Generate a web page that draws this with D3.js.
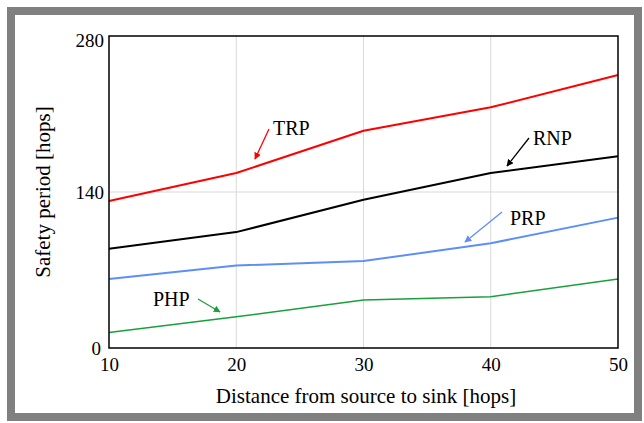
<!DOCTYPE html>
<html>
<head>
<meta charset="utf-8">
<script src="https://cdn.jsdelivr.net/npm/d3@7"></script>
<style>
  body { margin: 0; background: #fff; }
  svg { display: block; font-family: "Liberation Serif", "Times New Roman", serif; }
</style>
</head>
<body>
<svg id="chart"></svg>
<script>
// data
var distances = [10, 20, 30, 40, 50];
var trp = [132, 157, 195, 216, 245];
var rnp = [89, 104, 133, 157, 172];
var prp = [62, 74, 78, 94, 117];
var php = [14, 28, 43, 46, 62];
var yTicks = [0, 140, 280];

var series = [
  { name: "TRP", values: trp, color: "#ff0000", width: 2 },
  { name: "RNP", values: rnp, color: "#000000", width: 2 },
  { name: "PRP", values: prp, color: "#5c8ff7", width: 2 },
  { name: "PHP", values: php, color: "#17a03c", width: 1.5 }
];

// label + arrow placement for each series (pixel positions)
var notes = [
  { name: "TRP", color: "#ff0000", tx: 273, ty: 135, ax1: 269, ay1: 129, ax2: 255, ay2: 159 },
  { name: "RNP", color: "#000000", tx: 533, ty: 145, ax1: 529, ay1: 138, ax2: 507, ay2: 166 },
  { name: "PRP", color: "#5c8ff7", tx: 510, ty: 225, ax1: 502, ay1: 212, ax2: 465, ay2: 242 },
  { name: "PHP", color: "#17a03c", tx: 153, ty: 306, ax1: 198, ay1: 299, ax2: 220, ay2: 312 }
];

var W = 644, H = 423;
var margin = { top: 36, right: 26, bottom: 75, left: 109 };
var width = W - margin.left - margin.right;
var height = H - margin.top - margin.bottom;

var svg = d3.select("#chart").attr("width", W).attr("height", H);

// outer gray frame
svg.append("rect")
  .attr("x", 11).attr("y", 11)
  .attr("width", 627).attr("height", 406)
  .attr("fill", "none")
  .attr("stroke", "#808080")
  .attr("stroke-width", 8);

var defs = svg.append("defs");
notes.forEach(function(n) {
  defs.append("marker")
    .attr("id", "arr-" + n.name)
    .attr("viewBox", "0 0 10 10")
    .attr("refX", 9).attr("refY", 5)
    .attr("markerWidth", 7).attr("markerHeight", 7)
    .attr("markerUnits", "userSpaceOnUse")
    .attr("orient", "auto")
    .append("path")
    .attr("d", "M0,0 L10,5 L0,10 Z")
    .attr("fill", n.color);
});

var g = svg.append("g")
  .attr("transform", "translate(" + margin.left + "," + margin.top + ")");

var x = d3.scaleLinear().domain([10, 50]).range([0, width]);
var y = d3.scaleLinear().domain([0, 280]).range([height, 0]);

// grid
g.append("g").selectAll("line.vg")
  .data(distances.slice(1, -1))
  .enter().append("line")
  .attr("x1", d => x(d)).attr("x2", d => x(d))
  .attr("y1", 0).attr("y2", height)
  .attr("stroke", "#d9d9d9").attr("stroke-width", 1);

g.append("g").selectAll("line.hg")
  .data(yTicks.slice(1, -1))
  .enter().append("line")
  .attr("x1", 0).attr("x2", width)
  .attr("y1", d => y(d)).attr("y2", d => y(d))
  .attr("stroke", "#d9d9d9").attr("stroke-width", 1);

// lines
var line = d3.line()
  .x((d, i) => x(distances[i]))
  .y(d => y(d));

g.selectAll("path.series")
  .data(series)
  .enter().append("path")
  .attr("d", d => line(d.values))
  .attr("fill", "none")
  .attr("stroke", d => d.color)
  .attr("stroke-width", d => d.width)
  .attr("stroke-linejoin", "round");

// frame box
g.append("rect")
  .attr("width", width).attr("height", height)
  .attr("fill", "none")
  .attr("stroke", "#000")
  .attr("stroke-width", 1.5);

// x axis labels
var xAxis = g.append("g")
  .attr("transform", "translate(0," + height + ")")
  .call(d3.axisBottom(x).tickValues(distances).tickSize(0).tickPadding(0));
xAxis.select(".domain").remove();
xAxis.selectAll("text")
  .attr("y", 23).attr("dy", 0)
  .attr("fill", "#000")
  .style("font-size", "19px")
  .style("font-family", "Liberation Serif, serif");

// y axis labels
var yAxis = g.append("g")
  .call(d3.axisLeft(y).tickValues(yTicks).tickSize(0).tickPadding(5));
yAxis.select(".domain").remove();
yAxis.selectAll("text")
  .attr("dy", "0.35em")
  .attr("fill", "#000")
  .style("font-size", "19px")
  .style("font-family", "Liberation Serif, serif");
yAxis.selectAll(".tick")
  .filter(d => d === 280)
  .select("text").attr("y", 4);
yAxis.selectAll(".tick")
  .filter(d => d === 0)
  .select("text").attr("x", -8);

// axis titles
svg.append("text")
  .attr("x", 366)
  .attr("y", 403)
  .attr("text-anchor", "middle")
  .style("font-size", "21px")
  .text("Distance from source to sink [hops]");

svg.append("text")
  .attr("transform", "translate(50,192) rotate(-90)")
  .attr("text-anchor", "middle")
  .style("font-size", "21px")
  .text("Safety period [hops]");

// annotations
notes.forEach(function(n) {
  svg.append("text")
    .attr("x", n.tx).attr("y", n.ty)
    .style("font-size", "20px")
    .text(n.name);
  svg.append("line")
    .attr("x1", n.ax1).attr("y1", n.ay1)
    .attr("x2", n.ax2).attr("y2", n.ay2)
    .attr("stroke", n.color)
    .attr("stroke-width", 1.3)
    .attr("marker-end", "url(#arr-" + n.name + ")");
});
</script>
</body>
</html>
